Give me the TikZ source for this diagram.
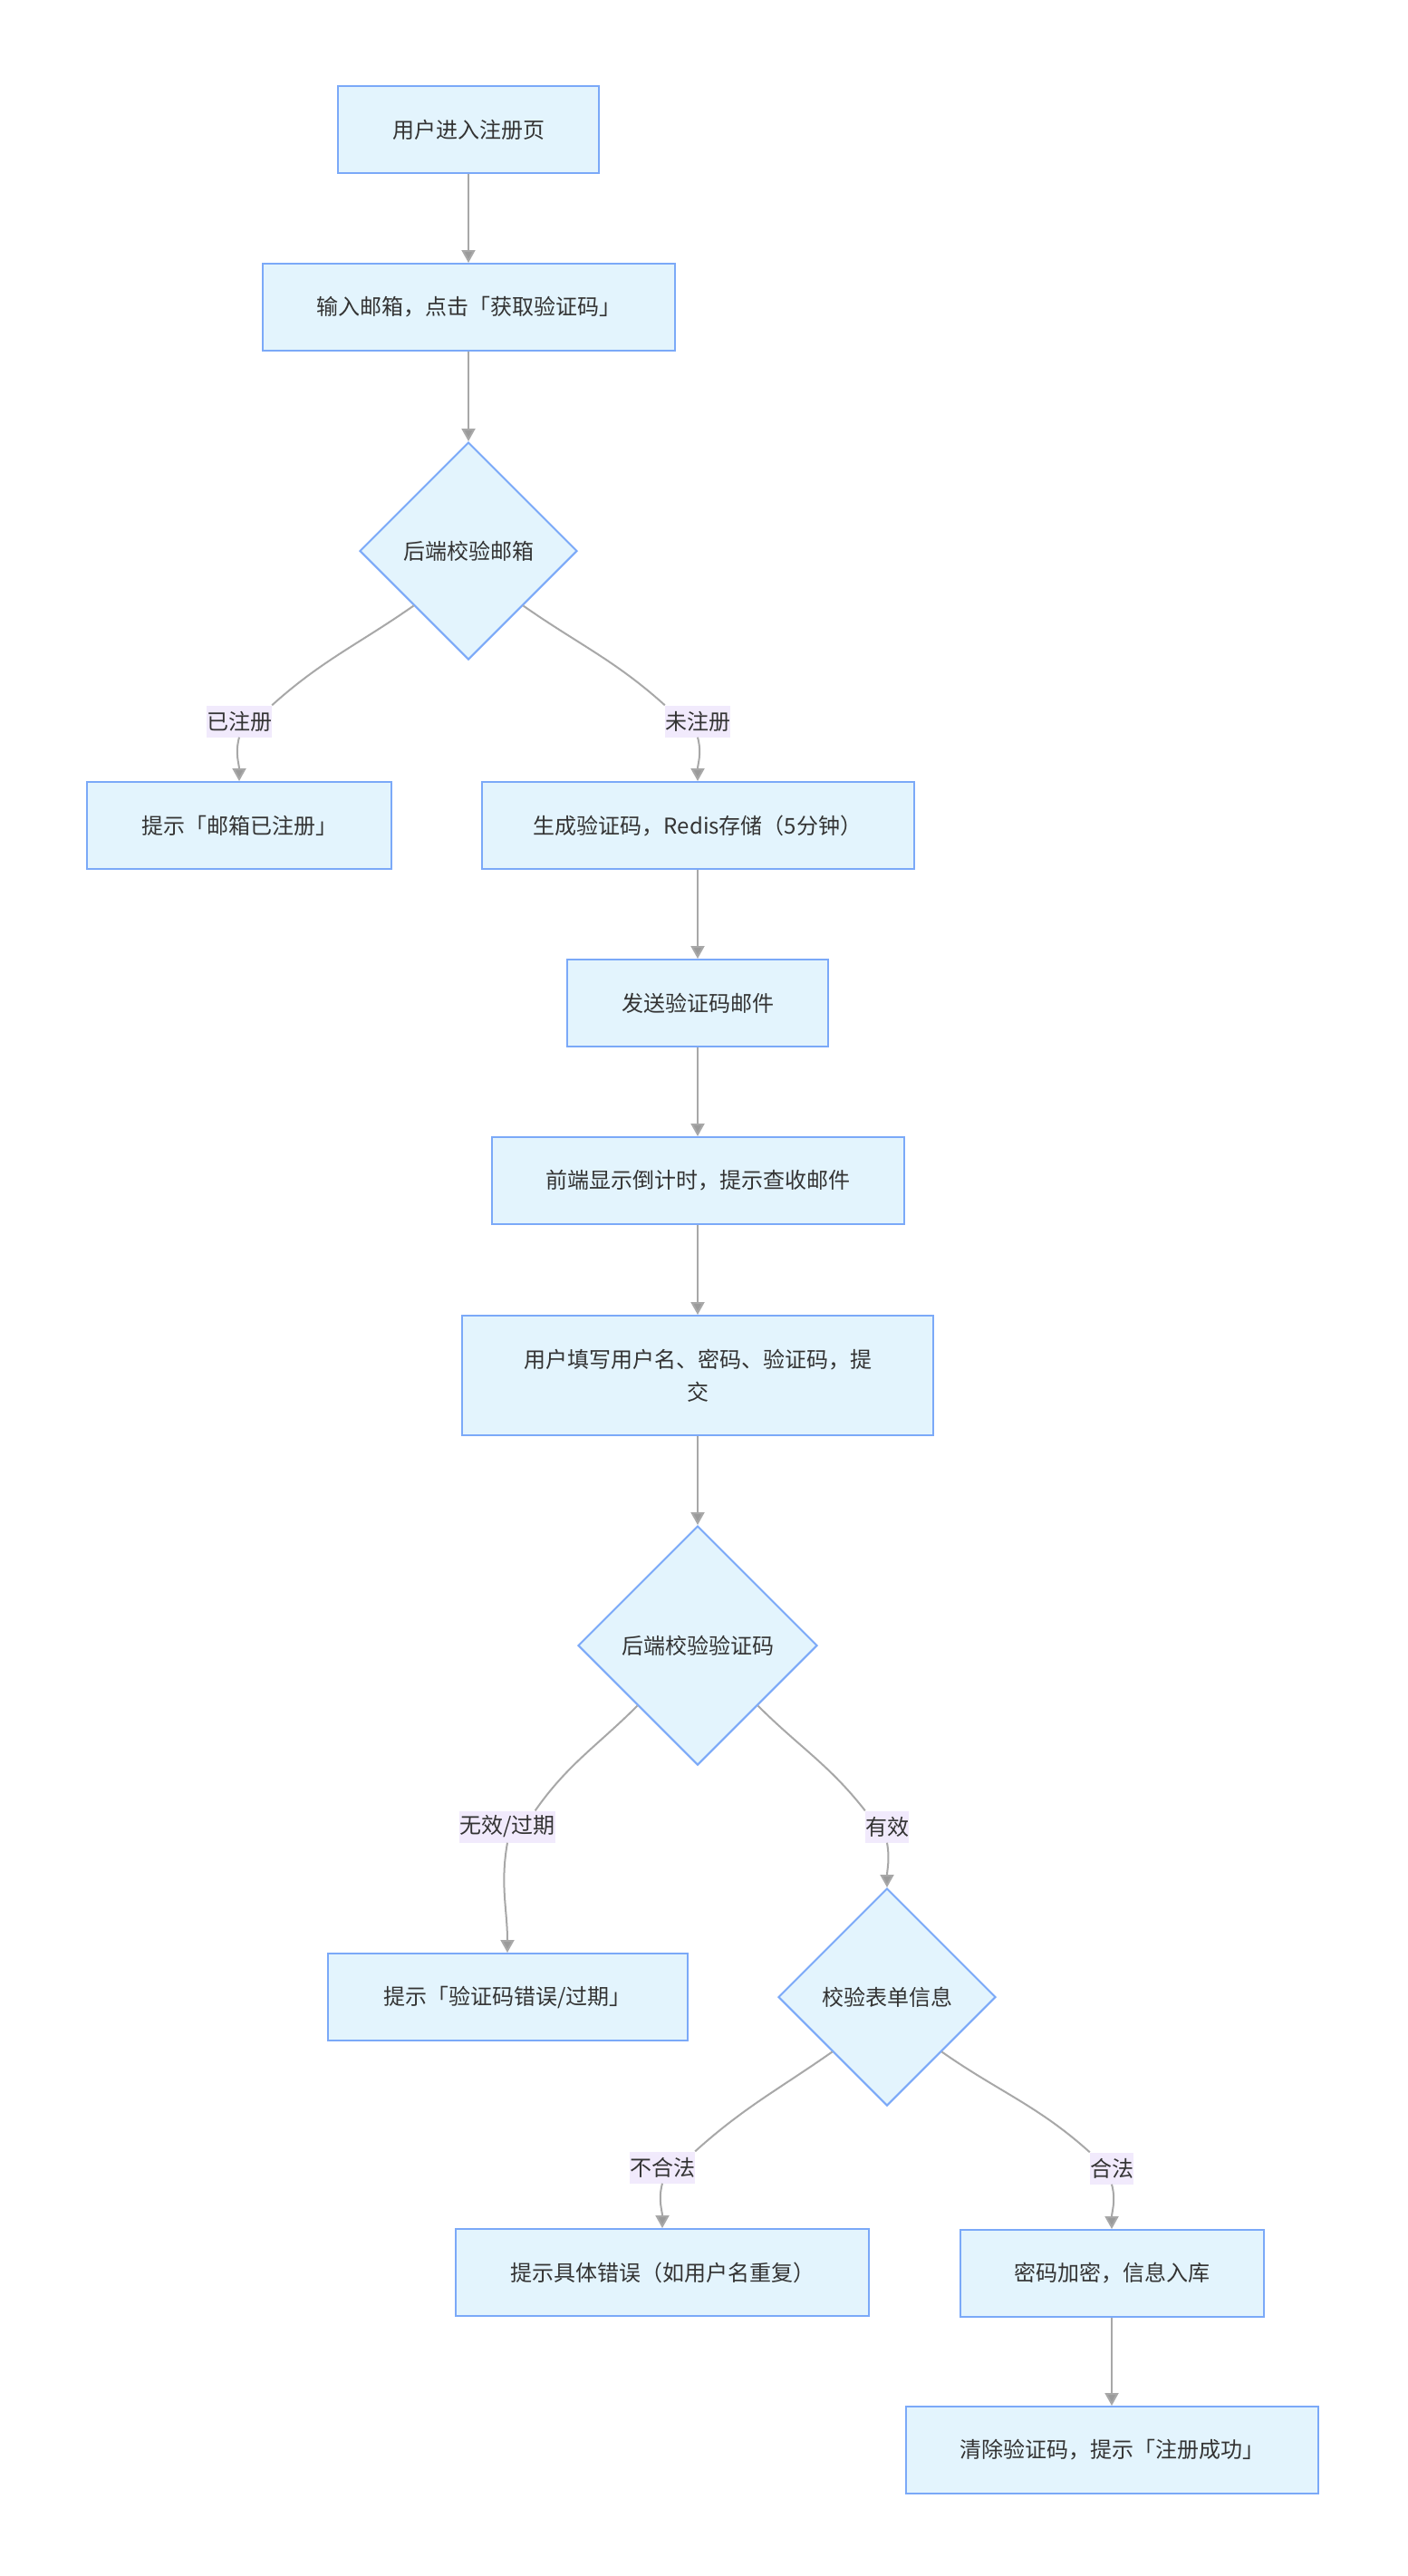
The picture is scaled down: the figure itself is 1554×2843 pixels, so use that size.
\documentclass[tikz,border=0pt]{standalone}
\usepackage{fontspec}
\setmainfont{Noto Sans CJK SC}
\usepackage{tikz}
\usetikzlibrary{shapes.geometric, arrows.meta, positioning}

\definecolor{boxfill}{HTML}{E3F4FD}
\definecolor{boxline}{HTML}{7BA9F8}
\definecolor{linkgray}{HTML}{A8A8A8}
\definecolor{tipgray}{HTML}{9A9A9A}
\definecolor{lblfill}{HTML}{F1EAFC}
\definecolor{txtgray}{HTML}{333333}

\tikzstyle{process} = [rectangle, minimum height=96pt, text centered, draw=boxline, line width=2pt, fill=boxfill, text=txtgray, font=\fontsize{24}{36}\selectfont]
\tikzstyle{decision} = [diamond, aspect=1, inner sep=0pt, text centered, draw=boxline, line width=2pt, fill=boxfill, text=txtgray, font=\fontsize{24}{36}\selectfont]
\tikzstyle{cond} = [rectangle, fill=lblfill, inner xsep=0pt, inner ysep=0pt, minimum height=35pt, text=txtgray, font=\fontsize{24}{36}\selectfont]
\tikzstyle{arrow} = [line width=2pt, draw=linkgray, -{Triangle[length=14pt, width=15pt, fill=tipgray]}]

\begin{document}
\begin{tikzpicture}
        \useasboundingbox [fill=white] (0,0) rectangle (1554pt,-2843pt);

        \node (regpage) [process, minimum width=288pt] at (517pt,-143pt) {用户进入注册页};
        \node (inputmail) [process, minimum width=455pt, below of=regpage, node distance=196pt] {输入邮箱，点击「获取验证码」};
        \node (chkmail) [decision, minimum width=240pt, minimum height=240pt, below of=inputmail, node distance=269pt] {后端校验邮箱};
        \node (mailused) [process, minimum width=336pt, below of=chkmail, node distance=303pt, xshift=-253pt] {提示「邮箱已注册」};
        \node (gencode) [process, minimum width=477pt, below of=chkmail, node distance=303pt, xshift=253pt] {生成验证码，Redis存储（5分钟）};
        \node (sendmail) [process, minimum width=288pt, below of=gencode, node distance=196pt] {发送验证码邮件};
        \node (countdown) [process, minimum width=455pt, below of=sendmail, node distance=196pt] {前端显示倒计时，提示查收邮件};
        \node (fillform) [process, minimum width=520pt, minimum height=132pt, align=center, below of=countdown, node distance=215pt] {用户填写用户名、密码、验证码，提\\交};
        \node (chkcode) [decision, minimum width=264pt, minimum height=264pt, below of=fillform, node distance=298pt] {后端校验验证码};
        \node (codebad) [process, minimum width=397pt, below of=chkcode, node distance=388pt, xshift=-210pt] {提示「验证码错误/过期」};
        \node (chkform) [decision, minimum width=240pt, minimum height=240pt, below of=chkcode, node distance=388pt, xshift=209pt] {校验表单信息};
        \node (formbad) [process, minimum width=456pt, below of=chkform, node distance=304pt, xshift=-248pt] {提示具体错误（如用户名重复）};
        \node (saveuser) [process, minimum width=335pt, below of=chkform, node distance=305pt, xshift=248pt] {密码加密，信息入库};
        \node (done) [process, minimum width=455pt, below of=saveuser, node distance=195pt] {清除验证码，提示「注册成功」};

        \node (used) [cond, above of=mailused, node distance=115pt] {已注册};
        \node (unused) [cond, above of=gencode, node distance=115pt] {未注册};
        \node (invalid) [cond, above of=codebad, node distance=188pt] {无效/过期};
        \node (valid) [cond, above of=chkform, node distance=188pt] {有效};
        \node (illegal) [cond, above of=formbad, node distance=116pt] {不合法};
        \node (legal) [cond, above of=saveuser, node distance=116pt] {合法};

        \draw [arrow] (regpage) -- (inputmail);
        \draw [arrow] (inputmail) -- (chkmail);
        \draw [arrow] (chkmail.south west) to[out=-145, in=42] (used.north east) (used.south) to[out=-105, in=90] (mailused);
        \draw [arrow] (chkmail.south east) to[out=-35, in=138] (unused.north west) (unused.south) to[out=-75, in=90] (gencode);
        \draw [arrow] (gencode) -- (sendmail);
        \draw [arrow] (sendmail) -- (countdown);
        \draw [arrow] (countdown) -- (fillform);
        \draw [arrow] (fillform) -- (chkcode);
        \draw [arrow] (chkcode.south west) to[out=-135, in=55] (invalid.30) (invalid.south) to[out=-100, in=90] (codebad);
        \draw [arrow] (chkcode.south east) to[out=-45, in=128] (valid.north west) (valid.south) to[out=-80, in=90] (chkform);
        \draw [arrow] (chkform.south west) to[out=-145, in=42] (illegal.north east) (illegal.south) to[out=-105, in=90] (formbad);
        \draw [arrow] (chkform.south east) to[out=-35, in=138] (legal.north west) (legal.south) to[out=-75, in=90] (saveuser);
        \draw [arrow] (saveuser) -- (done);

        \end{tikzpicture}
\end{document}
